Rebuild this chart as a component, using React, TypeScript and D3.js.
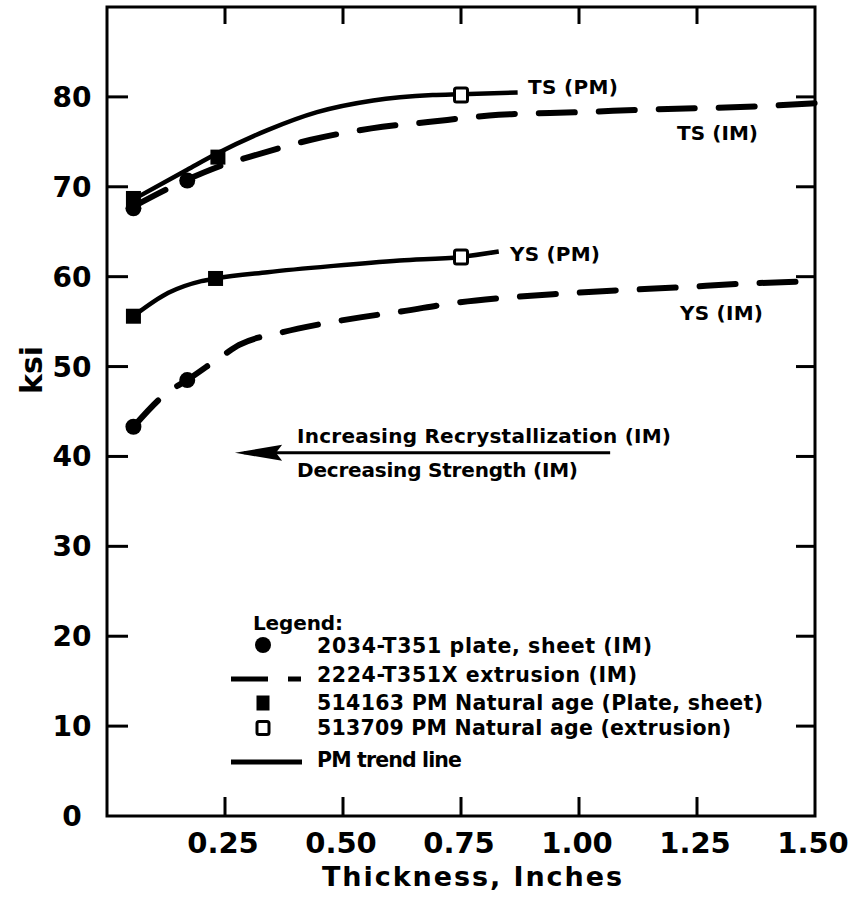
import React from "react";
import * as d3 from "d3";

// chart values (thickness in inches, strength in ksi)
const xTickValues = [0.25, 0.5, 0.75, 1.0, 1.25, 1.5];
const xTickLabels = ["0.25", "0.50", "0.75", "1.00", "1.25", "1.50"];
const yTickValues = [0, 10, 20, 30, 40, 50, 60, 70, 80];

// PM trend lines (solid)
const tsPmTrend: [number, number][] = [
  [0.056, 68.6], [0.17, 71.9], [0.233, 73.7], [0.34, 76.3], [0.445, 78.3],
  [0.564, 79.6], [0.69, 80.2], [0.75, 80.3], [0.87, 80.5],
];
const ysPmTrend: [number, number][] = [
  [0.056, 55.6], [0.13, 58.2], [0.2, 59.5], [0.23, 59.8], [0.34, 60.5],
  [0.48, 61.2], [0.62, 61.8], [0.75, 62.2], [0.83, 62.8],
];

// IM curves (dashed)
const tsImCurve: [number, number][] = [
  [0.056, 67.8], [0.17, 70.8], [0.256, 72.6], [0.3, 73.3], [0.43, 75.2],
  [0.56, 76.5], [0.68, 77.2], [0.83, 78.0], [1.0, 78.3], [1.15, 78.6],
  [1.4, 79.0], [1.5, 79.3],
];
const ysImCurve: [number, number][] = [
  [0.056, 43.3], [0.13, 47.2], [0.17, 48.5], [0.25, 51.4], [0.28, 52.4],
  [0.37, 53.8], [0.45, 54.7], [0.54, 55.5], [0.62, 56.1], [0.74, 57.1],
  [0.83, 57.6], [0.96, 58.1], [1.09, 58.5], [1.21, 58.8], [1.34, 59.2],
  [1.5, 59.5],
];

// measured points
const im2034Points: [number, number][] = [
  [0.056, 67.6], [0.17, 70.7], [0.056, 43.3], [0.17, 48.5],
];
const pm514163Points: [number, number][] = [
  [0.056, 68.7], [0.235, 73.3], [0.056, 55.6], [0.23, 59.8],
];
const pm513709Points: [number, number][] = [
  [0.75, 80.2], [0.75, 62.2],
];

const legendLabels = [
  "2034-T351 plate, sheet (IM)",
  "2224-T351X extrusion (IM)",
  "514163 PM Natural age (Plate, sheet)",
  "513709 PM Natural age (extrusion)",
  "PM trend line",
];
const legendWidths = [335, 320, 446, 414, 145];

const FONT = "'DejaVu Sans', 'Liberation Sans', Arial, sans-serif";

export default function App() {
  const width = 852;
  const height = 910;
  const left = 107, right = 815, top = 7, bottom = 816;

  const x = d3.scaleLinear().domain([0, 1.5]).range([left, right]);
  const y = d3.scaleLinear().domain([0, 90]).range([bottom, top]);

  const line = d3
    .line<[number, number]>()
    .x((d) => x(d[0]))
    .y((d) => y(d[1]))
    .curve(d3.curveMonotoneX);

  const tick = 19;
  const sq = 15;

  return (
    <svg
      width={width}
      height={height}
      style={{ position: "absolute", left: 0, top: 0, background: "#fff" }}
      fontFamily={FONT}
      fontWeight="bold"
    >
      <rect x={0} y={0} width={width} height={height} fill="#fff" />

      {/* frame */}
      <rect x={left} y={top} width={right - left} height={bottom - top} fill="none" stroke="#000" strokeWidth={3} />

      {/* inward ticks */}
      {xTickValues.slice(0, 5).map((t) => (
        <g key={"xt" + t} stroke="#000" strokeWidth={3}>
          <line x1={x(t)} x2={x(t)} y1={bottom} y2={bottom - tick} />
          <line x1={x(t)} x2={x(t)} y1={top} y2={top + tick - 2} />
        </g>
      ))}
      {yTickValues.slice(1).map((v) => (
        <g key={"yt" + v} stroke="#000" strokeWidth={3}>
          <line x1={left} x2={left + tick + 2} y1={y(v)} y2={y(v)} />
          <line x1={right} x2={right - tick} y1={y(v)} y2={y(v)} />
        </g>
      ))}

      {/* tick labels */}
      {xTickValues.map((t, i) => (
        <text key={"xl" + t} x={x(t) - 2} y={853} textAnchor="middle" fontSize={29}>
          {xTickLabels[i]}
        </text>
      ))}
      {yTickValues.map((v) => (
        <text key={"yl" + v} x={72} y={y(v) + 10} textAnchor="middle" fontSize={28}>
          {v}
        </text>
      ))}

      {/* axis titles */}
      <text x={472} y={886} textAnchor="middle" fontSize={27} textLength={300} lengthAdjust="spacing">
        Thickness, Inches
      </text>
      <text transform="translate(42,370) rotate(-90)" textAnchor="middle" fontSize={30}>
        ksi
      </text>

      {/* IM dashed curves */}
      {[tsImCurve, ysImCurve].map((c, i) => (
        <path
          key={"im" + i}
          d={line(c) || ""}
          fill="none"
          stroke="#000"
          strokeWidth={6}
          strokeDasharray="36 24"
          strokeLinecap="round"
        />
      ))}

      {/* PM trend lines */}
      {[tsPmTrend, ysPmTrend].map((c, i) => (
        <path key={"pm" + i} d={line(c) || ""} fill="none" stroke="#000" strokeWidth={4.5} />
      ))}

      {/* markers */}
      {im2034Points.map((d, i) => (
        <circle key={"c" + i} cx={x(d[0])} cy={y(d[1])} r={8} fill="#000" />
      ))}
      {pm514163Points.map((d, i) => (
        <rect key={"fs" + i} x={x(d[0]) - sq / 2} y={y(d[1]) - sq / 2} width={sq} height={sq} fill="#000" />
      ))}
      {pm513709Points.map((d, i) => (
        <rect
          key={"os" + i}
          x={x(d[0]) - 6.5}
          y={y(d[1]) - 7}
          width={13}
          height={14}
          fill="#fff"
          stroke="#000"
          strokeWidth={3}
          rx={2}
        />
      ))}

      {/* curve labels */}
      <text x={528} y={94} fontSize={20} textLength={90} lengthAdjust="spacing">TS (PM)</text>
      <text x={677} y={140} fontSize={20} textLength={81} lengthAdjust="spacing">TS (IM)</text>
      <text x={510} y={261} fontSize={20} textLength={90} lengthAdjust="spacing">YS (PM)</text>
      <text x={680} y={320} fontSize={20} textLength={83} lengthAdjust="spacing">YS (IM)</text>

      {/* recrystallization arrow */}
      <line x1={x(0.29)} x2={x(1.066)} y1={y(40.4)} y2={y(40.4)} stroke="#000" strokeWidth={3} />
      <path
        d={`M${x(0.271)},${y(40.4)} L${x(0.371)},${y(40.4) - 8} L${x(0.358)},${y(40.4)} L${x(0.371)},${y(40.4) + 8} Z`}
        fill="#000"
      />
      <text x={297} y={443} fontSize={20} textLength={374} lengthAdjust="spacing">
        Increasing Recrystallization (IM)
      </text>
      <text x={297} y={477} fontSize={20} textLength={281} lengthAdjust="spacing">
        Decreasing Strength (IM)
      </text>

      {/* legend */}
      <g>
        <text x={253} y={630} fontSize={20} textLength={90} lengthAdjust="spacing">Legend:</text>
        <circle cx={263} cy={645} r={8} fill="#000" />
        <line x1={231} x2={301} y1={679} y2={679} stroke="#000" strokeWidth={5} strokeDasharray="37 20" />
        <rect x={263 - 6.5} y={703 - 7.5} width={13} height={15} fill="#000" />
        <rect x={263 - 6} y={728 - 6.5} width={12} height={13} fill="#fff" stroke="#000" strokeWidth={3} rx={2} />
        <line x1={231} x2={302} y1={762} y2={762} stroke="#000" strokeWidth={5} />
        {legendLabels.map((s, i) => (
          <text
            key={s}
            x={317}
            y={[653, 682, 710, 735, 767][i]}
            fontSize={20.5}
            textLength={legendWidths[i]}
            lengthAdjust="spacing"
          >
            {s}
          </text>
        ))}
      </g>
    </svg>
  );
}
